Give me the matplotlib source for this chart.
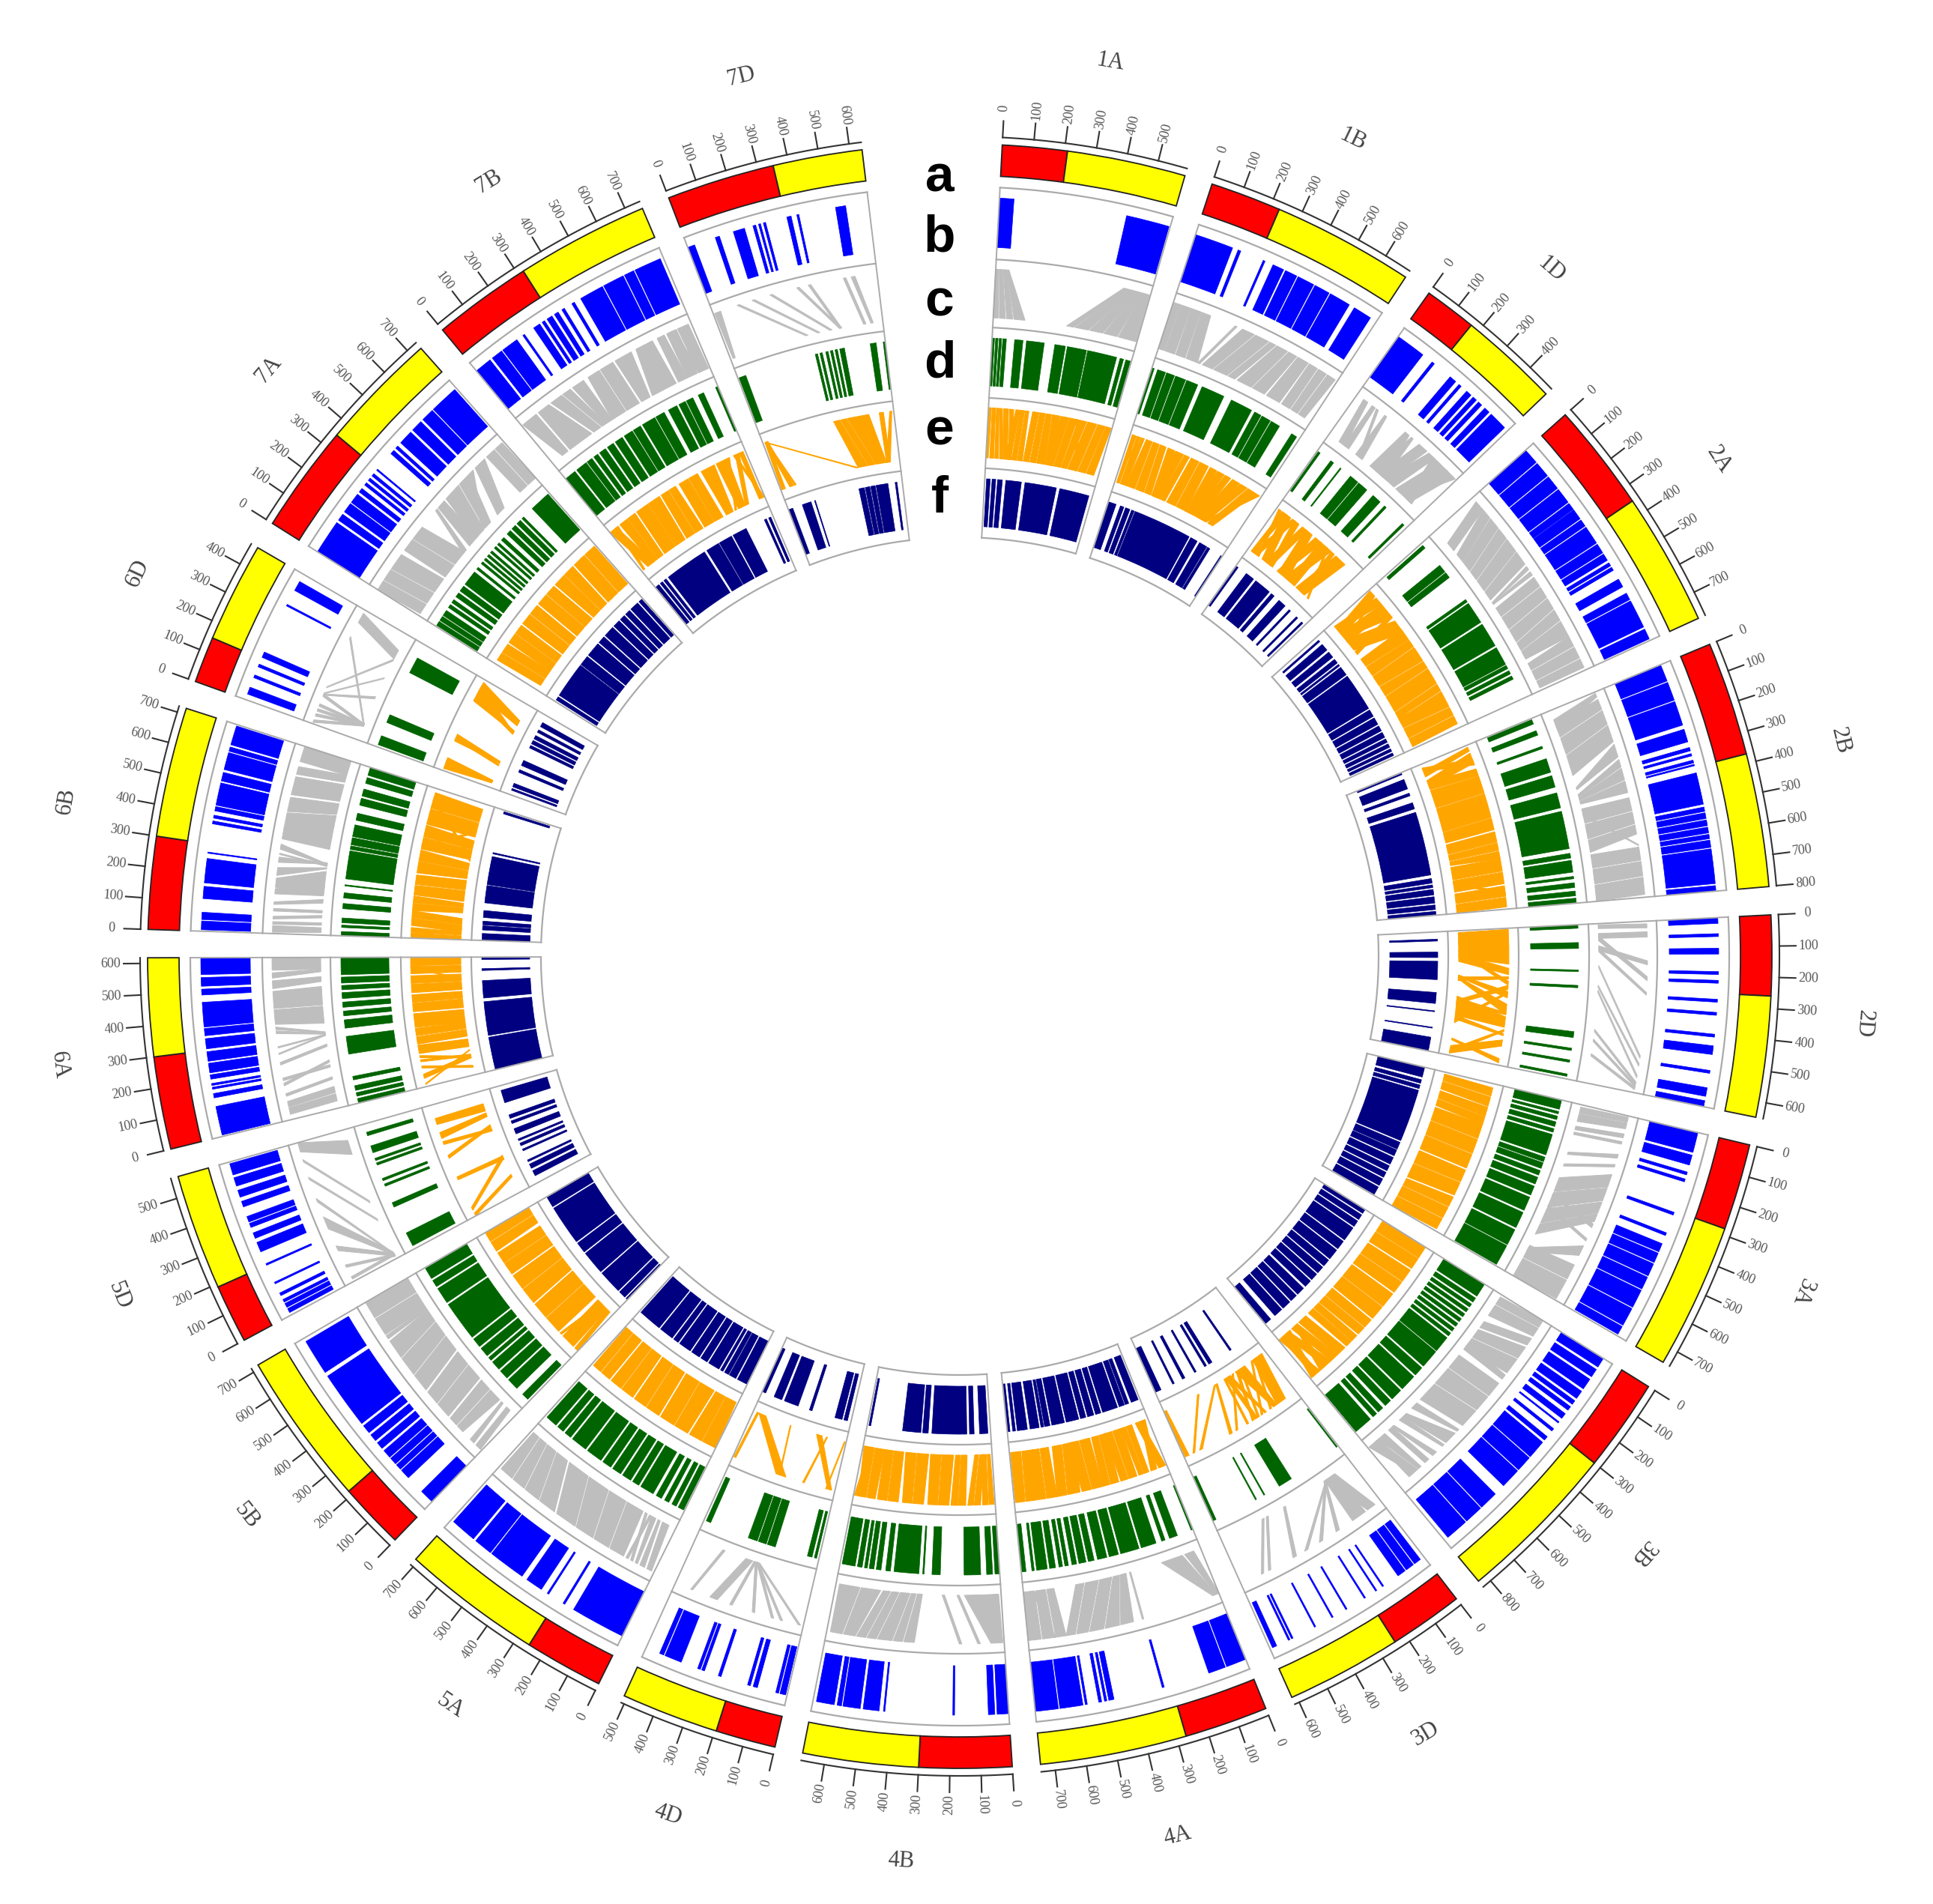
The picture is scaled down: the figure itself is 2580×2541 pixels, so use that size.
import numpy as np
import matplotlib
matplotlib.use("Agg")
import matplotlib.pyplot as plt

# chromosomes, length and end of the red arm in Mb
chroms = ['1A','1B','1D','2A','2B','2D','3A','3B','3D','4A','4B','4D','5A','5B','5D','6A','6B','6D','7A','7B','7D']
lengths = [594,689,495,781,801,651,751,830,615,745,674,510,710,713,566,618,720,473,737,751,639]
centro = [210,230,170,350,370,260,280,300,240,270,300,195,255,215,190,300,300,150,350,320,350]

# track b, marker clusters (start, end) in Mb
b_1A = [(0,50),(440,590)]
b_1B = [(0,135),(155,165),(248,255),(285,325),(332,375),(380,440),(445,500),(505,580),(600,665)]
b_1D = [(0,105),(145,155),(225,250),(265,275),(300,320),(330,345),(355,370),(385,405),(415,480)]
b_2A = [(0,55),(60,115),(120,170),(175,230),(235,260),(262,300),(305,330),(335,400),(405,440),(445,470),(480,492),(498,510),(545,575),(600,625),(630,730),(738,775)]
b_2B = [(0,60),(65,130),(135,220),(235,280),(300,312),(322,330),(345,355),(360,365),(390,500),(510,525),(530,550),(555,575),(580,600),(605,620),(625,650),(655,775),(782,800)]
b_2D = [(0,20),(55,65),(105,125),(185,195),(215,225),(280,290),(325,335),(400,410),(440,470),(525,535),(585,615),(630,651)]
b_3A = [(0,70),(80,115),(140,150),(165,175),(285,295),(360,370),(400,430),(435,470),(475,520),(525,570),(575,640),(645,710),(715,745)]
b_3B = [(0,35),(45,75),(85,125),(135,165),(175,190),(200,215),(230,250),(265,270),(295,305),(330,345),(355,420),(425,480),(485,555),(595,660),(665,730),(735,815)]
b_3D = [(15,40),(45,75),(80,110),(170,175),(198,203),(244,249),(318,323),(373,378),(441,446),(528,534),(540,546),(590,606)]
b_4A = [(0,70),(75,135),(295,302),(472,490),(497,505),(515,525),(565,572),(580,660),(665,745)]
b_4B = [(0,40),(48,70),(186,192),(425,430),(445,500),(510,570),(575,590),(600,662)]
b_4D = [(5,25),(30,40),(105,120),(130,140),(235,245),(295,305),(310,320),(380,440),(445,460)]
b_5A = [(0,190),(225,232),(290,296),(320,380),(400,530),(535,600),(610,700)]
b_5B = [(0,50),(115,150),(155,175),(180,205),(210,240),(250,275),(285,310),(320,350),(360,560),(575,700)]
b_5D = [(10,25),(30,45),(50,60),(75,85),(120,126),(190,196),(240,275),(290,310),(330,345),(350,370),(405,425),(440,465),(480,510),(520,560)]
b_6A = [(5,105),(135,150),(165,172),(178,185),(200,215),(222,255),(262,295),(305,340),(350,375),(380,465),(490,510),(520,550),(560,618)]
b_6B = [(5,35),(40,65),(112,154),(166,250),(268,272),(370,380),(390,400),(415,430),(435,513),(520,550),(560,620),(625,640),(648,715)]
b_6D = [(20,45),(80,90),(120,130),(155,175),(350,356),(410,445)]
b_7A = [(0,120),(130,155),(165,200),(205,240),(250,265),(280,290),(300,310),(320,330),(345,350),(420,435),(445,455),(470,520),(530,570),(580,625),(630,730)]
b_7B = [(0,60),(70,110),(115,175),(200,207),(245,270),(280,290),(300,320),(330,345),(360,370),(400,410),(435,520),(525,600),(605,640),(645,740)]
b_7D = [(0,25),(100,115),(165,205),(235,245),(255,262),(272,280),(355,370),(390,397),(525,560)]

# track d, marker clusters
d_1A = [(0,10),(15,25),(30,40),(45,60),(95,130),(145,220),(265,310),(318,400),(405,530),(545,560),(570,590)]
d_1B = [(0,10),(25,60),(65,100),(105,150),(155,205),(225,325),(360,455),(470,500),(505,545),(550,590),(650,675)]
d_1D = [(5,15),(70,85),(120,125),(175,215),(220,265),(300,340),(365,375),(470,480)]
d_2A = [(10,25),(120,155),(160,185),(300,312),(320,415),(425,530),(540,620),(625,640),(650,665),(675,690)]
d_2B = [(5,25),(55,75),(125,135),(180,240),(255,305),(330,395),(410,570),(590,610),(620,670),(688,698),(715,735),(750,770),(780,800)]
d_2D = [(0,15),(75,100),(190,197),(255,265),(450,475),(520,530),(570,580),(630,640)]
d_3A = [(0,40),(50,60),(70,85),(95,115),(125,140),(150,240),(250,270),(275,300),(310,330),(340,370),(380,420),(430,490),(500,570),(580,650),(655,745)]
d_3B = [(0,60),(70,90),(100,115),(125,140),(150,165),(175,190),(200,215),(225,240),(250,265),(275,345),(350,430),(440,480),(490,560),(570,620),(630,660),(675,700),(710,730),(745,825)]
d_3D = [(5,10),(240,300),(370,375),(410,415),(600,615)]
d_4A = [(0,8),(70,105),(125,140),(165,230),(240,320),(330,370),(380,420),(435,460),(470,500),(510,530),(545,560),(570,585),(600,625),(635,680),(690,700),(725,745)]
d_4B = [(0,20),(30,55),(80,150),(250,285),(318,324),(340,445),(460,480),(500,520),(530,550),(558,570),(580,600),(610,665)]
d_4D = [(10,20),(30,50),(190,225),(230,265),(270,310),(480,500)]
d_5A = [(5,30),(40,60),(75,95),(110,135),(150,210),(220,250),(260,300),(310,350),(360,400),(410,480),(490,560),(570,600),(610,640),(650,700)]
d_5B = [(10,40),(75,125),(135,175),(185,225),(235,250),(260,300),(310,350),(360,530),(540,610),(620,650),(660,710)]
d_5D = [(15,75),(195,215),(290,300),(315,325),(385,395),(405,415),(440,470),(515,530)]
d_6A = [(0,20),(30,45),(55,75),(100,115),(210,285),(320,355),(372,392),(408,430),(445,470),(482,500),(510,535),(545,617)]
d_6B = [(0,18),(35,45),(55,75),(114,136),(159,181),(210,215),(240,359),(365,380),(385,415),(420,470),(490,520),(555,585),(595,625),(650,675),(685,720)]
d_6D = [(10,50),(110,145),(340,410)]
d_7A = [(5,25),(30,50),(55,80),(95,110),(120,135),(150,170),(180,205),(215,280),(295,305),(325,335),(345,355),(365,375),(385,395),(410,420),(430,440),(455,470),(490,510),(520,540),(550,570),(580,590),(640,730)]
d_7B = [(0,50),(60,110),(115,140),(150,170),(180,210),(220,250),(260,295),(305,345),(350,385),(395,455),(460,500),(520,560),(570,600),(605,635),(660,685),(740,750)]
d_7D = [(5,35),(340,350),(360,370),(385,395),(405,415),(425,435),(445,465),(575,600),(630,638)]

# track f, marker clusters
f_1A = [(10,30),(40,60),(70,96),(115,200),(220,393),(412,575)]
f_1B = [(5,45),(70,90),(100,125),(135,150),(155,480),(490,530),(545,590),(595,610),(680,688)]
f_1D = [(5,15),(70,120),(135,230),(245,265),(300,345),(375,385),(430,440),(470,480)]
f_2A = [(20,30),(50,90),(105,140),(155,180),(190,200),(210,260),(270,480),(490,530),(540,580),(590,620),(630,660),(670,690),(700,720),(730,745),(755,770)]
f_2B = [(5,12),(40,95),(120,135),(175,210),(230,580),(600,625),(635,650),(660,690),(700,735),(745,770),(780,800)]
f_2D = [(40,50),(110,140),(160,260),(330,390),(430,435),(520,525),(575,651)]
f_3A = [(0,55),(70,90),(100,120),(130,420),(430,470),(475,510),(520,560),(570,600),(610,640),(650,690),(700,745)]
f_3B = [(0,25),(35,65),(75,110),(120,200),(210,260),(270,330),(340,380),(390,430),(440,480),(490,530),(545,590),(600,640),(650,700),(710,760),(790,825)]
f_3D = [(140,150),(265,285),(300,312),(365,375),(435,450),(500,510),(580,612)]
f_4A = [(10,50),(65,85),(90,120),(130,215),(225,255),(265,300),(310,340),(350,420),(430,500),(510,540),(545,560),(570,620),(635,690),(700,715),(730,745)]
f_4B = [(15,60),(90,115),(130,320),(340,370),(380,480),(655,665)]
f_4D = [(20,40),(50,90),(220,235),(300,380),(395,440),(490,510)]
f_5A = [(0,60),(70,110),(115,140),(150,165),(175,240),(250,290),(300,350),(360,430),(440,470),(480,560),(570,700)]
f_5B = [(0,10),(20,60),(70,200),(210,340),(350,410),(420,640),(650,710)]
f_5D = [(40,70),(85,110),(125,135),(190,200),(220,235),(250,260),(290,320),(350,365),(380,400),(470,540)]
f_6A = [(0,180),(190,375),(395,490),(545,555),(605,618)]
f_6B = [(0,38),(57,80),(85,105),(125,163),(205,300),(305,460),(475,482),(700,712)]
f_6D = [(25,35),(45,65),(130,145),(170,200),(275,290),(300,320),(330,350),(370,385),(405,430)]
f_7A = [(10,30),(40,240),(245,300),(310,390),(400,440),(450,510),(520,560),(570,600),(610,640),(650,700),(710,730)]
f_7B = [(5,25),(35,50),(60,75),(90,330),(345,420),(425,500),(510,590),(700,712),(725,738)]
f_7D = [(0,25),(80,130),(150,155),(400,430),(435,460),(465,490),(495,560),(600,610)]

# track c, links (top start, top end, bottom start, bottom end)
c_1A = [(0,12,0,20),(14,26,25,50),(28,40,55,80),(40,50,85,130),(490,505,300,330),(505,525,335,390),(525,545,395,450),(545,565,455,510),(565,590,515,590)]
c_1B = [(0,30,0,25),(32,70,28,70),(72,110,75,115),(112,150,120,170),(250,258,170,180),(280,330,190,235),(335,390,240,300),(395,420,305,335),(425,470,345,410),(475,510,415,470),(515,560,480,540),(565,600,550,590),(605,640,595,625),(645,680,630,660)]
c_1D = [(30,50,50,80),(70,85,75,100),(90,100,150,160),(130,140,135,170),(230,250,210,290),(260,270,240,290),(300,340,260,300),(350,380,290,340),(370,400,410,440),(400,450,350,380),(440,480,400,430),(470,490,360,400)]
c_2A = [(20,45,70,110),(48,60,100,110),(60,100,130,170),(104,150,172,215),(154,200,220,260),(204,260,265,315),(264,320,320,360),(330,345,372,376),(355,370,376,382),(380,420,400,440),(425,470,445,500),(475,520,505,560),(525,570,565,600),(575,640,604,640),(640,680,660,690),(685,730,695,735),(735,770,740,770)]
c_2B = [(5,20,40,90),(30,70,60,115),(75,130,120,190),(135,200,195,280),(210,260,330,340),(270,300,360,370),(305,350,372,385),(355,400,388,400),(420,470,420,480),(475,520,485,545),(525,560,550,600),(600,605,440,450),(610,660,610,665),(665,720,670,730),(725,790,735,800)]
c_2D = [(10,25,5,20),(40,60,40,60),(150,165,90,110),(210,225,50,70),(270,280,100,115),(510,520,170,180),(540,550,250,260),(585,595,270,280),(610,620,430,440),(620,630,470,480),(630,640,530,540)]
c_3A = [(5,25,10,35),(28,50,38,70),(70,85,90,105),(100,110,115,125),(150,165,200,210),(190,200,250,260),(230,280,310,370),(284,335,374,440),(340,385,445,510),(388,420,514,560),(430,445,380,390),(490,500,430,440),(520,560,620,640),(600,660,610,665),(665,745,670,750)]
c_3B = [(0,30,10,45),(34,70,50,100),(80,110,130,160),(120,170,170,210),(175,240,215,260),(250,270,240,270),(290,350,300,365),(355,420,370,450),(425,500,455,540),(520,530,560,590),(540,590,620,640),(600,610,640,660),(640,660,690,700),(680,700,700,720),(720,735,740,775),(738,760,780,825),(760,780,770,790)]
c_3D = [(25,60,80,130),(70,130,90,130),(190,205,125,135),(265,280,120,130),(330,345,115,125),(380,395,320,330),(490,500,400,410),(520,530,420,430)]
c_4A = [(0,10,30,70),(10,25,80,170),(300,306,300,306),(340,390,320,345),(395,450,348,375),(455,510,380,430),(515,560,435,490),(565,600,495,530),(600,640,620,650),(645,690,655,695),(695,745,700,745),(640,650,700,710)]
c_4B = [(5,20,10,60),(20,50,60,150),(90,100,170,180),(160,170,230,240),(340,380,320,340),(385,420,345,365),(425,480,370,410),(485,520,415,445),(525,560,450,480),(565,610,490,570),(615,660,575,660)]
c_4D = [(10,20,230,240),(80,90,235,245),(115,125,235,245),(190,200,240,250),(280,290,245,255),(340,370,260,290),(440,448,380,390)]
c_5A = [(10,30,30,60),(40,60,70,80),(70,80,90,110),(90,100,130,140),(110,120,110,120),(130,190,150,225),(195,260,230,310),(265,340,315,410),(345,430,415,510),(440,510,520,575),(515,580,580,625),(585,640,630,665),(645,700,670,700)]
c_5B = [(5,30,30,50),(40,60,70,80),(100,130,90,145),(135,170,150,200),(180,240,210,280),(245,300,285,350),(310,380,360,430),(385,460,435,500),(465,540,505,560),(550,565,560,570),(570,640,570,640),(645,710,645,710)]
c_5D = [(10,20,15,25),(60,70,10,20),(130,150,10,25),(220,270,15,30),(330,345,15,25),(420,430,170,180),(490,500,250,260),(530,566,460,520)]
c_6A = [(20,45,30,60),(48,70,65,90),(90,100,120,130),(130,140,190,200),(150,160,170,180),(210,220,255,265),(250,255,300,305),(275,280,300,305),(330,340,305,310),(345,355,310,315),(365,420,350,420),(425,490,425,500),(500,530,520,540),(540,560,560,570),(570,618,570,618)]
c_6B = [(5,30,10,30),(35,45,40,50),(55,65,70,80),(85,95,90,100),(110,120,130,145),(150,170,160,200),(175,210,170,260),(220,250,270,275),(270,290,290,295),(300,305,280,285),(320,340,285,290),(360,400,350,450),(400,460,440,490),(465,520,495,540),(530,600,550,620),(610,640,630,660),(660,720,660,720)]
c_6D = [(5,15,60,70),(30,40,60,70),(50,60,60,70),(70,80,60,70),(110,120,60,70),(120,125,270,275),(115,120,180,190),(350,360,60,70),(145,150,350,360),(420,460,360,400)]
c_7A = [(0,40,10,55),(44,90,60,110),(94,160,115,180),(180,230,190,250),(234,290,255,320),(370,380,310,330),(385,420,350,400),(430,500,390,440),(505,560,445,480),(560,580,430,440),(590,640,520,560),(650,690,650,690),(695,730,695,735)]
c_7B = [(5,70,50,80),(80,130,90,200),(140,190,210,245),(195,230,250,270),(240,290,270,300),(310,360,300,365),(365,420,370,430),(430,500,440,480),(520,590,490,600),(610,640,610,650),(650,690,650,695),(695,740,700,745),(660,680,700,710)]
c_7D = [(5,30,10,20),(95,105,320,330),(155,165,370,380),(225,235,420,430),(330,340,460,470),(375,385,460,470),(510,520,560,570),(540,555,590,600)]

# track e, links
e_1A = [(2,14,0,12),(18,34,20,40),(38,50,46,66),(54,66,72,90),(72,95,92,112),(100,120,118,132),(130,150,100,128),(152,172,134,160),(176,192,164,190),(210,240,195,225),(244,270,230,262),(274,300,266,310),(304,340,312,342),(345,385,322,352),(388,425,356,392),(430,470,396,425),(475,520,430,480),(525,560,485,525),(563,590,530,570),(420,430,470,480)]
e_1B = [(10,30,10,25),(34,50,30,45),(54,70,40,60),(80,110,60,110),(115,145,115,160),(150,180,165,200),(190,225,205,240),(230,270,205,250),(275,300,250,280),(310,350,290,340),(355,400,345,400),(410,445,400,430),(450,485,395,445),(490,520,440,480),(530,570,470,510),(575,610,480,520),(615,660,530,560),(660,680,510,520),(10,15,60,65)]
e_1D = [(10,25,60,70),(30,60,20,35),(40,80,90,130),(90,110,30,60),(100,130,140,160),(150,180,110,150),(170,210,200,260),(230,270,190,220),(260,300,270,310),(290,330,240,280),(330,350,350,370),(360,420,320,380),(300,310,400,410)]
e_2A = [(5,40,40,90),(50,90,20,50),(90,130,70,130),(130,170,50,100),(150,170,190,210),(190,260,110,180),(240,270,240,260),(270,300,250,285),(303,340,290,345),(345,380,350,400),(380,420,360,410),(425,460,415,470),(465,500,475,520),(500,545,520,565),(550,585,570,605),(590,620,610,640),(620,670,600,660),(675,715,665,720),(720,760,725,770),(30,38,120,130)]
e_2B = [(10,30,40,70),(40,90,90,130),(70,100,20,40),(120,155,100,140),(158,190,145,180),(190,240,180,240),(244,300,245,310),(300,360,310,370),(364,420,374,430),(430,480,440,490),(484,520,495,525),(525,560,530,550),(560,620,560,625),(625,680,630,690),(690,740,700,750),(745,790,755,800),(720,730,640,650)]
e_2D = [(5,90,10,70),(90,170,60,140),(190,220,120,160),(230,240,240,260),(250,270,100,110),(270,290,360,380),(300,310,460,480),(300,330,230,240),(360,410,240,250),(400,410,350,380),(420,470,340,440),(500,510,440,460),(530,560,600,640),(480,490,620,640),(620,640,560,570)]
e_3A = [(20,60,10,45),(65,110,50,90),(115,160,100,140),(163,200,145,180),(200,270,190,260),(275,345,265,340),(350,420,345,420),(430,490,430,500),(495,560,505,580),(570,620,590,630),(625,680,635,690),(685,740,695,750)]
e_3B = [(0,60,0,65),(64,120,70,130),(130,195,140,205),(200,260,210,270),(270,345,280,355),(350,420,360,430),(430,475,440,490),(480,520,495,540),(530,565,545,580),(568,600,585,620),(610,660,640,690),(660,700,700,740),(700,740,760,790),(740,770,700,720),(780,810,780,815),(800,825,750,780),(770,780,820,828)]
e_3D = [(60,110,20,80),(110,130,130,190),(140,150,60,70),(170,180,220,240),(190,200,80,90),(210,220,150,160),(220,235,230,250),(240,250,170,185),(270,280,250,260),(330,340,200,210),(360,375,300,310),(590,610,600,615),(560,570,410,420),(520,535,310,320)]
e_4A = [(5,40,40,70),(50,80,15,40),(90,115,90,120),(118,140,124,150),(150,190,150,195),(194,230,200,240),(240,280,230,270),(284,320,274,310),(320,370,320,375),(374,420,380,430),(430,490,400,465),(494,540,470,520),(540,590,540,585),(594,640,590,630),(640,690,620,680),(694,740,685,740),(715,730,690,700)]
e_4B = [(5,30,10,25),(34,60,30,50),(70,100,40,65),(104,130,70,90),(140,175,130,160),(178,210,164,190),(220,270,200,260),(274,320,264,320),(340,390,330,390),(394,440,394,450),(460,510,460,510),(514,560,514,560),(570,610,560,610),(614,650,614,660),(650,670,620,640),(640,650,655,670)]
e_4D = [(15,35,130,160),(40,45,5,10),(240,290,440,480),(270,275,300,305),(495,505,480,490),(150,158,100,106)]
e_5A = [(0,70,10,70),(74,140,74,130),(150,220,140,225),(225,300,230,310),(310,380,320,390),(385,450,395,460),(460,525,470,530),(530,590,535,590),(600,650,600,655),(655,700,660,705)]
e_5B = [(0,20,20,40),(30,100,40,110),(110,120,80,90),(130,215,130,220),(220,300,225,310),(310,390,320,395),(395,470,400,470),(480,540,480,540),(544,600,545,600),(610,660,620,665),(665,710,670,710)]
e_5D = [(30,45,195,215),(190,205,190,210),(300,315,370,385),(370,385,350,365),(400,430,430,450),(470,500,460,500),(0,15,90,105)]
e_6A = [(10,15,130,135),(40,60,90,110),(90,100,40,50),(120,130,100,110),(140,150,90,100),(160,200,150,190),(205,240,205,240),(245,280,245,280),(285,350,280,345),(360,400,355,400),(404,440,404,440),(450,490,450,490),(494,530,494,530),(540,575,540,575),(578,615,580,615),(570,575,500,505)]
e_6B = [(0,25,0,20),(28,50,24,40),(10,15,50,60),(60,95,40,75),(98,130,78,110),(130,165,140,165),(168,200,168,190),(205,250,200,255),(255,300,260,310),(310,365,320,360),(368,420,364,400),(425,480,420,470),(484,540,474,520),(440,450,560,570),(545,620,540,615),(624,700,620,690),(670,680,410,420),(660,665,430,440)]
e_6D = [(10,50,25,35),(40,65,25,40),(150,185,135,145),(160,165,120,130),(380,440,300,310),(360,380,310,320),(400,460,350,380)]
e_7A = [(20,60,30,70),(64,110,74,120),(120,170,120,170),(174,220,174,220),(230,285,230,285),(290,340,290,340),(350,405,350,410),(410,460,414,470),(470,530,480,530),(534,590,534,580),(600,665,590,660),(670,730,665,730),(640,650,610,620)]
e_7B = [(0,40,40,80),(30,50,10,20),(60,105,70,105),(108,150,108,140),(160,225,150,215),(228,290,218,280),(300,340,290,340),(344,380,344,390),(400,450,400,455),(454,500,458,510),(520,590,530,570),(600,660,600,640),(660,670,580,590),(700,720,640,660),(720,740,720,740),(690,700,740,750)]
e_7D = [(10,25,5,25),(10,25,50,70),(15,20,75,85),(10,15,410,420),(350,380,420,470),(384,412,474,510),(416,440,514,540),(440,520,530,570),(570,590,570,590),(620,630,570,590)]

b_track = [b_1A,b_1B,b_1D,b_2A,b_2B,b_2D,b_3A,b_3B,b_3D,b_4A,b_4B,b_4D,b_5A,b_5B,b_5D,b_6A,b_6B,b_6D,b_7A,b_7B,b_7D]
c_track = [c_1A,c_1B,c_1D,c_2A,c_2B,c_2D,c_3A,c_3B,c_3D,c_4A,c_4B,c_4D,c_5A,c_5B,c_5D,c_6A,c_6B,c_6D,c_7A,c_7B,c_7D]
d_track = [d_1A,d_1B,d_1D,d_2A,d_2B,d_2D,d_3A,d_3B,d_3D,d_4A,d_4B,d_4D,d_5A,d_5B,d_5D,d_6A,d_6B,d_6D,d_7A,d_7B,d_7D]
e_track = [e_1A,e_1B,e_1D,e_2A,e_2B,e_2D,e_3A,e_3B,e_3D,e_4A,e_4B,e_4D,e_5A,e_5B,e_5D,e_6A,e_6B,e_6D,e_7A,e_7B,e_7D]
f_track = [f_1A,f_1B,f_1D,f_2A,f_2B,f_2D,f_3A,f_3B,f_3D,f_4A,f_4B,f_4D,f_5A,f_5B,f_5D,f_6A,f_6B,f_6D,f_7A,f_7B,f_7D]
panel_letters = ['a','b','c','d','e','f']

DEG_PER_MB = 0.02205
GAP = 2.0
START = 3.0
W, H = 2580, 2541
CX, CY, RLIM = 1281, 1276, 1250

fig = plt.figure(figsize=(W/100, H/100), dpi=100)
ax = fig.add_axes([(CX-RLIM)/W, (H-CY-RLIM)/H, 2*RLIM/W, 2*RLIM/H], projection='polar')
ax.set_theta_zero_location('N')
ax.set_theta_direction(-1)
ax.axis('off')

def draw_spans(spans, to_theta, r0, r1, color):
    # clusters of markers as little wedges
    for s, e in spans:
        t0, t1 = to_theta(s), to_theta(e)
        ax.bar((t0+t1)/2, r1-r0, width=t1-t0, bottom=r0, color=color, edgecolor=color, linewidth=0.5)

def draw_links(links, to_theta, r_top, r_bot, color):
    for t0, t1, b0, b1 in links:
        ax.fill([to_theta(t0), to_theta(t1), to_theta(b1), to_theta(b0)],
                [r_top, r_top, r_bot, r_bot], color=color, linewidth=0.7)

def radial_rotation(deg):
    return 90-deg if deg < 180 else 270-deg

def name_rotation(deg):
    if deg < 145:
        return -deg
    if deg < 270:
        return 180-deg
    return 360-deg

pos = START
for i, name in enumerate(chroms):
    size = lengths[i]
    start_deg = pos
    end_deg = pos + size*DEG_PER_MB
    to_theta = lambda mb, s=start_deg: np.radians(s + mb*DEG_PER_MB)
    t_start, t_end = np.radians(start_deg), np.radians(end_deg)

    # ideogram, track a
    t_mid = to_theta(centro[i])
    ax.bar((t_start+t_mid)/2, 42, width=t_mid-t_start, bottom=1042, color='#ff0000', edgecolor='#222222', linewidth=1.3)
    ax.bar((t_mid+t_end)/2, 42, width=t_end-t_mid, bottom=1042, color='#ffff00', edgecolor='#222222', linewidth=1.3)

    # grey frame of the tracks
    arc = np.linspace(t_start, t_end, 60)
    for r in [1027, 931, 840, 746, 652, 559]:
        ax.plot(arc, np.full(60, r), color='#aaaaaa', lw=1.6)
    ax.plot([t_start, t_start], [559, 1027], color='#aaaaaa', lw=1.4)
    ax.plot([t_end, t_end], [559, 1027], color='#aaaaaa', lw=1.4)

    draw_spans(b_track[i], to_theta, 947, 1013, '#0000ff')
    draw_links(c_track[i], to_theta, 918, 853, '#bebebe')
    draw_spans(d_track[i], to_theta, 762, 826, '#006400')
    draw_links(e_track[i], to_theta, 733, 666, '#ffa500')
    draw_spans(f_track[i], to_theta, 574, 638, '#000080')

    # scale
    ax.plot(arc, np.full(60, 1094), color='#333333', lw=1.5)
    for mb in range(0, size+1, 100):
        th = to_theta(mb)
        ax.plot([th, th], [1094, 1116], color='#333333', lw=1.5)
        ax.text(th, 1133, str(mb), fontsize=13, color='#555555', family='Liberation Serif',
                rotation=radial_rotation(np.degrees(th)), rotation_mode='anchor', ha='center', va='center')

    mid_deg = (start_deg+end_deg)/2
    ax.text(np.radians(mid_deg), 1210, name, fontsize=22, color='#444444', family='Liberation Serif',
            rotation=name_rotation(mid_deg), rotation_mode='anchor', ha='center', va='center')
    pos = end_deg + GAP

ax.set_ylim(0, RLIM)

# panel letters in the top gap
letter_y = [238, 317, 403, 485, 576, 666]
for letter, y in zip(panel_letters, letter_y):
    fig.text(1254/W, 1-y/H, letter, fontsize=50, fontweight='bold', family='Liberation Sans',
             color='black', ha='center', va='center')

fig.savefig('out.png', dpi=100, facecolor='white')
